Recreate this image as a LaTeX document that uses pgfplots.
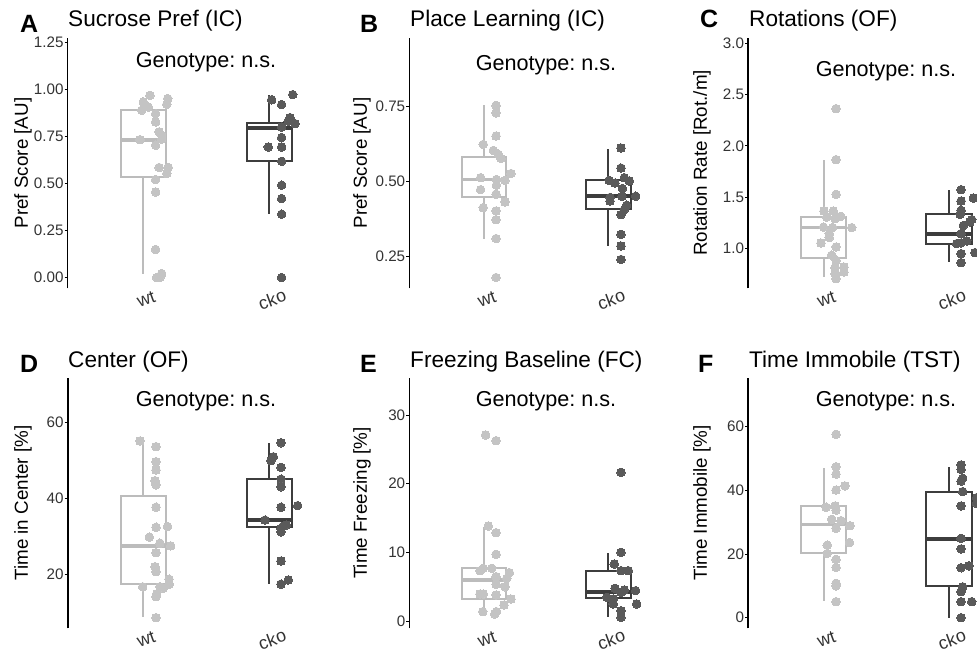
\documentclass[border=0pt]{standalone}
\usepackage{fontspec}
\setmainfont{Liberation Sans}
\usepackage{pgfplots}
\pgfplotsset{compat=1.18}
\usepgfplotslibrary{statistics}
\definecolor{wtbox}{HTML}{BCBCBC}
\definecolor{wtpt}{HTML}{C4C4C4}
\definecolor{ckbox}{HTML}{3D3D3D}
\definecolor{ckpt}{HTML}{5A5A5A}
\definecolor{txt}{HTML}{333333}
\pgfplotsset{
  panel/.style={
    scale only axis, height=250pt,
    xmin=0.4, xmax=2.6,
    axis lines=left, axis line style={-},
    x axis line style={draw=none},
    y axis line style={line width=1.6pt, black},
    xtick={1,2}, xticklabels={wt,cko},
    xtick style={draw=none},
    ytick style={line width=0.8pt, black},
    major tick length=3pt, tick align=outside,
    scaled y ticks=false,
    boxplot/draw direction=y,
    /pgf/number format/assume math mode=true,
    yticklabel style={font=\fontsize{15.2}{15}\selectfont, inner sep=1pt, text=txt},
    xticklabel style={font=\fontsize{18}{18}\selectfont, rotate=20, anchor=center, yshift=-8.5pt, text=txt},
  },
  bx/.style={line width=2pt,
    boxplot/every box/.style={line width=2pt},
    boxplot/every whisker/.style={line width=2pt},
    boxplot/every median/.style={line width=3.8pt}},
  wtb/.style={draw=wtbox, bx},
  ckb/.style={draw=ckbox, bx},
  wtp/.style={only marks, color=wtpt, mark=*, mark size=4.3pt, mark options={fill=wtpt, draw=wtpt, line width=0pt}},
  ckp/.style={only marks, color=ckpt, mark=*, mark size=4.3pt, mark options={fill=ckpt, draw=ckpt, line width=0pt}},
}
\begin{document}
\frenchspacing
\begin{tikzpicture}
% ---------- A ----------
\begin{axis}[panel, at={(67.7pt,363.7pt)}, anchor=south west, width=277.2pt,
  ymin=-0.057, ymax=1.27, ytick={0,0.25,0.5,0.75,1,1.25},
  yticklabel style={/pgf/number format/.cd, fixed, fixed zerofill, precision=2}]
\addplot[wtb, boxplot prepared={draw direction=y, draw position=1, box extend=0.36, whisker extend=0,
  median=0.732, upper quartile=0.888, lower quartile=0.534, upper whisker=0.958, lower whisker=0.021}] coordinates {};
\addplot[ckb, boxplot prepared={draw direction=y, draw position=2, box extend=0.36, whisker extend=0,
  median=0.795, upper quartile=0.820, lower quartile=0.617, upper whisker=0.967, lower whisker=0.336}] coordinates {};
\addplot[wtp] coordinates {(1.053,0.967) (1.194,0.950) (1.000,0.932) (1.186,0.919) (1.040,0.905) (0.987,0.888) (1.098,0.870) (1.098,0.826) (1.125,0.773) (1.146,0.755) (0.974,0.732) (1.146,0.735) (1.098,0.702) (1.125,0.584) (1.198,0.584) (1.186,0.552) (1.098,0.520) (1.098,0.454) (1.098,0.149) (1.146,0.021) (1.106,0.000) (1.132,0.000)};
\addplot[ckp] coordinates {(2.186,0.971) (2.019,0.944) (2.098,0.918) (2.164,0.849) (2.204,0.817) (2.150,0.830) (2.098,0.799) (2.098,0.743) (1.992,0.693) (2.098,0.693) (2.098,0.617) (2.098,0.490) (2.098,0.419) (2.098,0.336) (2.098,0.000)};
\end{axis}
% ---------- B ----------
\begin{axis}[panel, at={(409.4pt,363.7pt)}, anchor=south west, width=273.5pt,
  ymin=0.143, ymax=0.977, ytick={0.25,0.5,0.75},
  yticklabel style={/pgf/number format/.cd, fixed, fixed zerofill, precision=2}]
\addplot[wtb, boxplot prepared={draw direction=y, draw position=1, box extend=0.36, whisker extend=0,
  median=0.506, upper quartile=0.581, lower quartile=0.446, upper whisker=0.753, lower whisker=0.309}] coordinates {};
\addplot[ckb, boxplot prepared={draw direction=y, draw position=2, box extend=0.36, whisker extend=0,
  median=0.451, upper quartile=0.503, lower quartile=0.407, upper whisker=0.609, lower whisker=0.284}] coordinates {};
\addplot[wtp] coordinates {(1.097,0.753) (1.097,0.728) (1.097,0.651) (0.994,0.623) (1.075,0.603) (1.115,0.590) (1.137,0.576) (1.217,0.526) (0.973,0.512) (1.100,0.506) (1.169,0.503) (1.100,0.487) (0.973,0.472) (1.097,0.457) (1.169,0.431) (0.994,0.412) (1.097,0.401) (1.097,0.372) (1.097,0.309) (1.097,0.179)};
\addplot[ckp] coordinates {(2.102,0.611) (2.102,0.544) (2.129,0.512) (2.006,0.503) (2.054,0.494) (2.169,0.501) (2.113,0.476) (2.014,0.446) (2.110,0.450) (2.220,0.450) (2.014,0.434) (2.147,0.420) (2.129,0.406) (2.102,0.389) (2.102,0.323) (2.102,0.284) (2.102,0.239)};
\end{axis}
% ---------- C ----------
\begin{axis}[panel, at={(748.2pt,363.7pt)}, anchor=south west, width=276.1pt,
  ymin=0.606, ymax=3.052, ytick={1,1.5,2,2.5,3},
  yticklabel style={/pgf/number format/.cd, fixed, fixed zerofill, precision=1}]
\addplot[wtb, boxplot prepared={draw direction=y, draw position=1, box extend=0.36, whisker extend=0,
  median=1.200, upper quartile=1.303, lower quartile=0.906, upper whisker=1.858, lower whisker=0.716}] coordinates {};
\addplot[ckb, boxplot prepared={draw direction=y, draw position=2, box extend=0.36, whisker extend=0,
  median=1.141, upper quartile=1.337, lower quartile=1.043, upper whisker=1.571, lower whisker=0.863}] coordinates {};
\addplot[wtp] coordinates {(1.100,2.364) (1.100,1.865) (1.100,1.525) (1.004,1.362) (1.078,1.362) (1.025,1.303) (1.137,1.310) (1.092,1.288) (1.000,1.205) (1.073,1.200) (1.225,1.200) (1.046,1.141) (1.046,1.102) (0.980,1.049) (1.100,1.010) (1.065,0.929) (1.100,0.880) (1.163,0.814) (1.092,0.808) (1.163,0.765) (1.092,0.749) (1.100,0.700)};
\addplot[ckp] coordinates {(2.096,1.571) (2.194,1.489) (2.096,1.460) (2.096,1.369) (2.088,1.330) (2.181,1.278) (2.167,1.255) (2.114,1.220) (2.096,1.141) (2.061,1.043) (2.096,1.050) (2.141,1.070) (2.096,0.945) (2.207,0.955) (2.096,0.857)};
\end{axis}
% ---------- D ----------
\begin{axis}[panel, at={(67.7pt,23.7pt)}, anchor=south west, width=277.2pt,
  ymin=5.75, ymax=71.7, ytick={20,40,60}]
\addplot[wtb, boxplot prepared={draw direction=y, draw position=1, box extend=0.36, whisker extend=0,
  median=27.5, upper quartile=40.66, lower quartile=17.4, upper whisker=55.2, lower whisker=8.8}] coordinates {};
\addplot[ckb, boxplot prepared={draw direction=y, draw position=2, box extend=0.36, whisker extend=0,
  median=34.3, upper quartile=45.07, lower quartile=32.6, upper whisker=54.6, lower whisker=17.4}] coordinates {};
\addplot[wtp] coordinates {(0.974,55.17) (1.101,53.67) (1.101,49.7) (1.101,47.5) (1.093,44.7) (1.101,43.6) (1.101,37.7) (1.101,32.4) (1.193,32.6) (1.048,29.8) (1.132,28.2) (1.217,27.5) (1.101,25.7) (1.093,22.0) (1.101,20.7) (1.204,18.7) (1.206,17.4) (0.995,16.7) (1.132,16.7) (1.159,16.3) (1.106,14.8) (1.101,14.1) (1.101,8.55)};
\addplot[ckp] coordinates {(2.093,54.7) (2.032,51.0) (2.013,50.0) (2.093,48.2) (2.093,45.1) (2.093,43.1) (2.093,37.7) (2.225,38.1) (1.966,34.3) (2.110,32.7) (2.135,33.0) (2.093,32.1) (2.093,31.2) (2.093,23.5) (2.151,18.5) (2.093,17.4)};
\end{axis}
% ---------- E ----------
\begin{axis}[panel, at={(409.4pt,23.7pt)}, anchor=south west, width=273.5pt,
  ymin=-1.06, ymax=35.34, ytick={0,10,20,30}]
\addplot[wtb, boxplot prepared={draw direction=y, draw position=1, box extend=0.36, whisker extend=0,
  median=5.97, upper quartile=7.77, lower quartile=3.16, upper whisker=13.64, lower whisker=1.36}] coordinates {};
\addplot[ckb, boxplot prepared={draw direction=y, draw position=2, box extend=0.36, whisker extend=0,
  median=4.27, upper quartile=7.28, lower quartile=3.3, upper whisker=9.86, lower whisker=0.63}] coordinates {};
\addplot[wtp] coordinates {(1.013,27.09) (1.097,26.26) (1.035,13.83) (1.097,12.86) (1.097,9.71) (0.994,7.67) (1.062,7.67) (0.968,7.33) (1.204,7.04) (1.097,6.46) (1.183,6.21) (1.097,5.34) (1.169,4.99) (0.968,3.93) (0.994,3.93) (1.097,3.79) (1.217,3.20) (1.161,2.33) (0.990,1.36) (1.100,1.36) (1.086,1.02)};
\addplot[ckp] coordinates {(2.102,21.65) (2.102,10.0) (2.048,8.3) (2.102,7.33) (2.161,7.33) (2.054,4.76) (2.129,4.51) (2.220,4.42) (1.987,3.45) (2.040,3.20) (2.102,4.18) (2.040,2.48) (2.228,2.48) (2.102,1.50) (2.102,0.54)};
\end{axis}
% ---------- F ----------
\begin{axis}[panel, at={(748.2pt,23.7pt)}, anchor=south west, width=276.1pt,
  ymin=-3.33, ymax=75.2, ytick={0,20,40,60}]
\addplot[wtb, boxplot prepared={draw direction=y, draw position=1, box extend=0.36, whisker extend=0,
  median=29.3, upper quartile=35.2, lower quartile=20.4, upper whisker=47.1, lower whisker=5.24}] coordinates {};
\addplot[ckb, boxplot prepared={draw direction=y, draw position=2, box extend=0.36, whisker extend=0,
  median=24.7, upper quartile=39.6, lower quartile=9.96, upper whisker=47.4, lower whisker=0.0}] coordinates {};
\addplot[wtp] coordinates {(1.100,57.6) (1.100,47.4) (1.100,45.1) (1.171,41.4) (1.100,40.1) (1.020,34.7) (1.092,35.1) (1.100,33.8) (1.065,30.9) (1.139,30.5) (1.211,28.9) (1.100,28.1) (1.206,23.6) (1.030,22.8) (1.030,20.2) (1.100,18.3) (1.100,15.8) (1.100,10.8) (1.100,10.0) (1.100,5.03)};
\addplot[ckp] coordinates {(2.096,48.0) (2.096,46.6) (2.109,43.8) (2.096,42.9) (2.109,39.6) (2.220,37.7) (2.220,35.9) (2.096,35.1) (2.096,24.9) (2.096,21.6) (2.096,15.7) (2.159,16.3) (2.109,9.7) (2.096,8.2) (2.096,5.03) (2.181,5.03) (2.096,0.0)};
\end{axis}
% ---------- texts ----------
\tikzset{ttl/.style={font=\fontsize{22.6}{22}\selectfont, anchor=base west, inner sep=0pt},
  lett/.style={font=\bfseries\fontsize{25}{25}\selectfont, anchor=base west, inner sep=0pt},
  geno/.style={font=\fontsize{21.6}{21}\selectfont, anchor=base, inner sep=0pt},
  ylab/.style={font=\fontsize{18.8}{18.8}\selectfont, rotate=90, anchor=center, inner sep=0pt}}
\node[ttl] at (68pt,625pt) {Sucrose Pref (IC)};
\node[ttl] at (410pt,625pt) {Place Learning (IC)};
\node[ttl] at (749pt,625pt) {Rotations (OF)};
\node[ttl] at (68pt,284pt) {Center (OF)};
\node[ttl] at (410pt,284pt) {Freezing Baseline (FC)};
\node[ttl] at (749pt,284pt) {Time Immobile (TST)};
\node[lett] at (20pt,619pt) {A};
\node[lett] at (360pt,619pt) {B};
\node[lett] at (700pt,624pt) {C};
\node[lett] at (20pt,279pt) {D};
\node[lett] at (360pt,279pt) {E};
\node[lett] at (698pt,279pt) {F};
\node[geno] at (206pt,584pt) {Genotype: n.s.};
\node[geno] at (546pt,581pt) {Genotype: n.s.};
\node[geno] at (886pt,575pt) {Genotype: n.s.};
\node[geno] at (206pt,245pt) {Genotype: n.s.};
\node[geno] at (546pt,245pt) {Genotype: n.s.};
\node[geno] at (886pt,245pt) {Genotype: n.s.};
\node[ylab] at (23pt,489pt) {Pref Score [AU]};
\node[ylab] at (362pt,489pt) {Pref Score [AU]};
\node[ylab] at (702pt,489pt) {Rotation Rate [Rot./m]};
\node[ylab] at (23pt,149pt) {Time in Center [\%]};
\node[ylab] at (362pt,149pt) {Time Freezing [\%]};
\node[ylab] at (702pt,149pt) {Time Immobile [\%]};
\pgfresetboundingbox
\path[use as bounding box] (0,0) rectangle (977pt,652pt);
\end{tikzpicture}
\end{document}
